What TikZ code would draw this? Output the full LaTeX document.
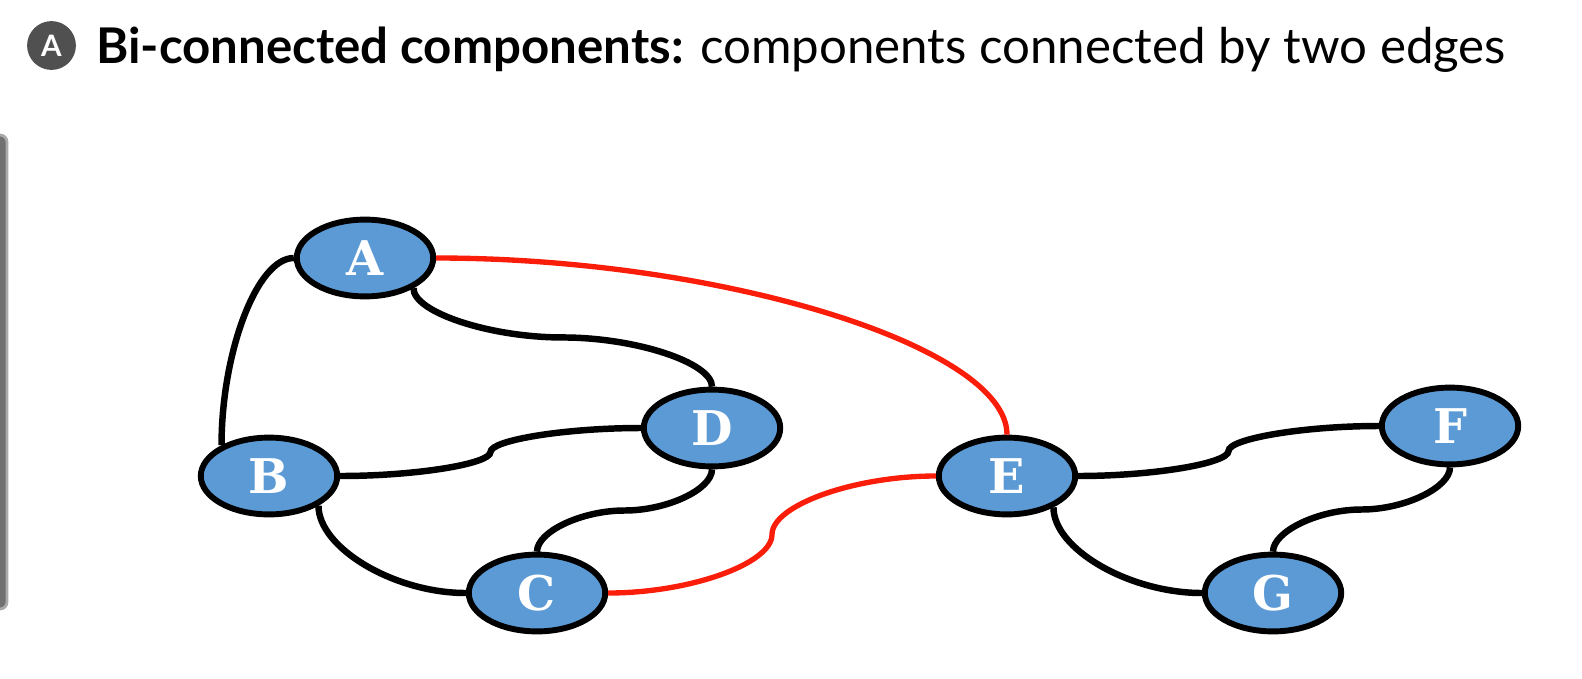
\documentclass[tikz,border=0pt]{standalone}
\usepackage{fontspec}
\setsansfont{Lato}
\newfontfamily\slabfont{DejaVu Serif}
\usetikzlibrary{shapes.geometric, calc}

\definecolor{nodeblue}{RGB}{91,154,213}
\definecolor{bridgered}{RGB}{250,30,10}
\definecolor{badgegray}{RGB}{80,80,80}
\definecolor{barfill}{RGB}{112,112,112}
\definecolor{barline}{RGB}{170,170,170}

\begin{document}
\begin{tikzpicture}[x=0.025cm, y=-0.025cm,
  vertex/.style={ellipse, draw=black, line width=4.2pt, fill=nodeblue,
    minimum width=3.41cm, minimum height=1.92cm, inner sep=0pt,
    text=white, font=\slabfont\bfseries\fontsize{34}{34}\selectfont},
  edge/.style={line width=4.6pt, black},
  bridge/.style={line width=3.8pt, bridgered}]
  \useasboundingbox (0,0) rectangle (1582,678);

  % Side bar
  \draw[barline, fill=barfill, line width=2pt, rounded corners=5pt]
    (-10,135) rectangle (7,609);

  % Title
  \node[circle, fill=badgegray, minimum size=1.22cm, inner sep=0pt, text=white,
    font=\sffamily\bfseries\fontsize{21}{21}\selectfont] (badge) at (51.5,45.5) {A};
  \node[anchor=base west, inner sep=0pt, font=\sffamily\fontsize{35}{35}\selectfont]
    (title) at (96,63) {\textbf{Bi-connected components:} components connected by two edges};

  % Vertices
  \node[vertex] (A) at (365,258) {A};
  \node[vertex] (B) at (269,476) {B};
  \node[vertex] (D) at (712,428) {D};
  \node[vertex] (C) at (537,593) {C};
  \node[vertex] (E) at (1007,476) {E};
  \node[vertex] (F) at (1450,426) {F};
  \node[vertex] (G) at (1273,593) {G};

  % Bends halfway along the stepped connectors
  \coordinate (ad) at ($(A.-32)!.5!(D.north)$);
  \coordinate (bd) at ($(B.east)!.5!(D.west)$);
  \coordinate (dc) at ($(D.south)!.5!(C.north)$);
  \coordinate (ef) at ($(E.east)!.5!(F.west)$);
  \coordinate (fg) at ($(F.south)!.5!(G.north)$);
  \coordinate (ce) at ($(C.east)!.5!(E.west)$);

  % Left block
  \draw[edge] (A.west) to[out=180, in=90, out distance=0.93cm, in distance=2.3cm] (B.147);
  \draw[edge] (A.-32) to[out=-90, in=180, out distance=0.6cm, in distance=1.82cm] (ad)
    to[out=0, in=90, out distance=1.82cm, in distance=0.6cm] (D.north);
  \draw[edge] (B.east) to[out=0, in=-90, out distance=1.87cm, in distance=0.3cm] (bd)
    to[out=90, in=180, out distance=0.3cm, in distance=1.87cm] (D.west);
  \draw[edge] (B.-31) to[out=-90, in=180, out distance=1.05cm, in distance=1.8cm] (C.west);
  \draw[edge] (D.south) to[out=-90, in=0, out distance=0.5cm, in distance=1.07cm] (dc)
    to[out=180, in=90, out distance=1.07cm, in distance=0.5cm] (C.north);

  % Right block
  \draw[edge] (E.east) to[out=0, in=-90, out distance=1.87cm, in distance=0.31cm] (ef)
    to[out=90, in=180, out distance=0.31cm, in distance=1.87cm] (F.west);
  \draw[edge] (E.-34) to[out=-90, in=180, out distance=1.05cm, in distance=1.8cm] (G.west);
  \draw[edge] (F.south) to[out=-90, in=0, out distance=0.5cm, in distance=1.09cm] (fg)
    to[out=180, in=90, out distance=1.09cm, in distance=0.5cm] (G.north);

  % Bridges between the two blocks
  \draw[bridge] (A.east) to[out=0, in=90, out distance=7.1cm, in distance=2.2cm] (E.north);
  \draw[bridge] (C.east) to[out=0, in=-90, out distance=2.04cm, in distance=0.73cm] (ce)
    to[out=90, in=180, out distance=0.73cm, in distance=2.04cm] (E.west);
\end{tikzpicture}
\end{document}
